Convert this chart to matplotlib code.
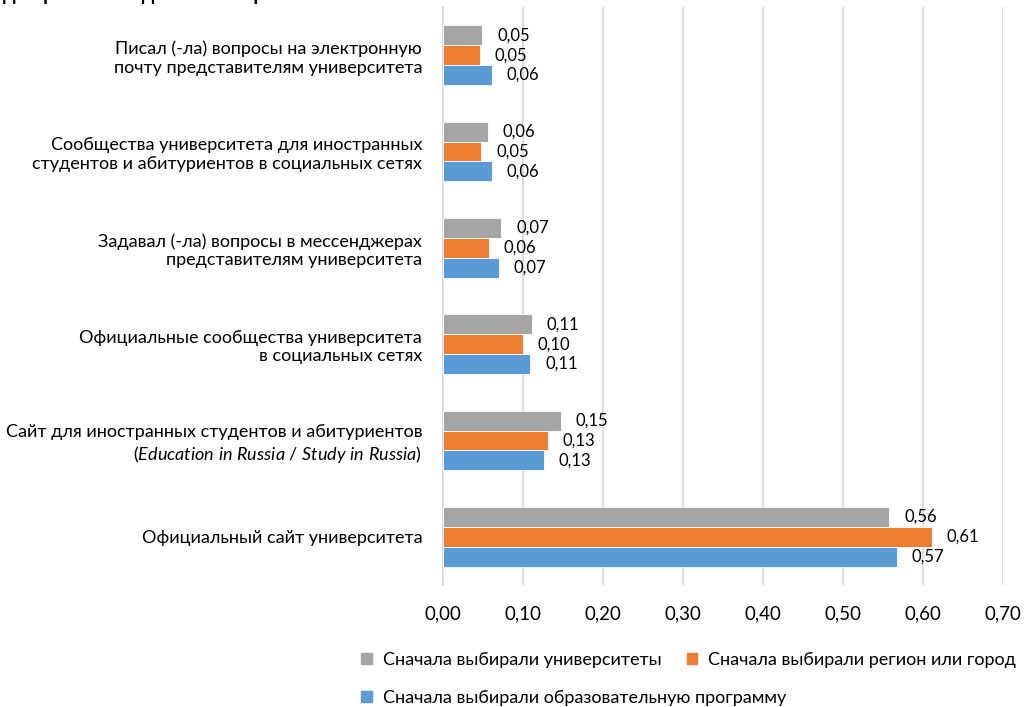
import matplotlib
matplotlib.use("Agg")
import matplotlib.pyplot as plt
import numpy as np
from matplotlib.patches import Patch

plt.rcParams['font.family'] = ['Lato', 'DejaVu Sans']
plt.rcParams['mathtext.fontset'] = 'custom'
plt.rcParams['mathtext.rm'] = 'Lato'
plt.rcParams['mathtext.it'] = 'Lato:italic'

categories = [
    "Официальный сайт университета",
    "Сайт для иностранных студентов и абитуриентов\n($\\it{Education\\ in\\ Russia\\ /\\ Study\\ in\\ Russia}$)",
    "Официальные сообщества университета\nв социальных сетях",
    "Задавал (-ла) вопросы в мессенджерах\nпредставителям университета",
    "Сообщества университета для иностранных\nстудентов и абитуриентов в социальных сетях",
    "Писал (-ла) вопросы на электронную\nпочту представителям университета",
]
series_names = [
    "Сначала выбирали университеты",
    "Сначала выбирали регион или город",
    "Сначала выбирали образовательную программу",
]
universities = [0.558, 0.147, 0.111, 0.073, 0.056, 0.049]
region = [0.611, 0.131, 0.100, 0.057, 0.048, 0.046]
program = [0.567, 0.126, 0.109, 0.070, 0.061, 0.061]
xticks = [0.0, 0.1, 0.2, 0.3, 0.4, 0.5, 0.6, 0.7]

colors = ["#A5A5A5", "#ED7D31", "#5B9BD5"]

W, H = 1033, 707
fig = plt.figure(figsize=(W / 100, H / 100), dpi=100)
ax = fig.add_axes([443 / W, (H - 585) / H, 560 / W, 578 / H])

y = np.arange(len(categories))
h = 0.207
offsets = [h, 0, -h]
for vals, col, off, name in zip([universities, region, program], colors, offsets, series_names):
    bars = ax.barh(y + off, vals, height=h, color=col, edgecolor='white', linewidth=0.6,
                   label=name, zorder=3)
    for b, v in zip(bars, vals):
        ax.annotate(f"{v:.2f}".replace('.', ','), (v, b.get_y() + b.get_height() / 2),
                    xytext=(15, 0), textcoords='offset pixels',
                    va='center', ha='left', fontsize=12, color='#000000')

ax.set_xlim(0, 0.7)
ax.set_ylim(-0.5, len(categories) - 0.5)
ax.set_xticks(xticks)
ax.set_xticklabels([f"{t:.2f}".replace('.', ',') for t in xticks], fontsize=13.5)
ax.set_yticks(y)
ax.set_yticklabels(categories, fontsize=13, ha='right', multialignment='right')
ax.tick_params(axis='y', length=0, pad=15)
ax.tick_params(axis='x', length=0, pad=15)
ax.grid(axis='x', color='#D9D9D9', linewidth=1.3, zorder=0)
for s in ['top', 'right', 'bottom']:
    ax.spines[s].set_visible(False)
ax.spines['left'].set_color('#D9D9D9')
ax.spines['left'].set_linewidth(1.3)

handles = [Patch(color=c) for c in colors]
leg1 = fig.legend(handles[:2], series_names[:2], loc='center left',
                  bbox_to_anchor=(361 / W, (H - 660) / H), ncol=2, frameon=False,
                  fontsize=13, handlelength=0.6, handleheight=0.6, handletextpad=0.6,
                  columnspacing=1.4, borderaxespad=0, borderpad=0)
leg2 = fig.legend(handles[2:], series_names[2:], loc='center left',
                  bbox_to_anchor=(361 / W, (H - 698) / H), ncol=1, frameon=False,
                  fontsize=13, handlelength=0.6, handleheight=0.6, handletextpad=0.6,
                  borderaxespad=0, borderpad=0)

fig.text(3 / W, 1 + 6 / H, "для разных моделей выбора", fontsize=14.5, fontweight='bold',
         ha='left', va='center')

fig.savefig("out.png", dpi=100)
